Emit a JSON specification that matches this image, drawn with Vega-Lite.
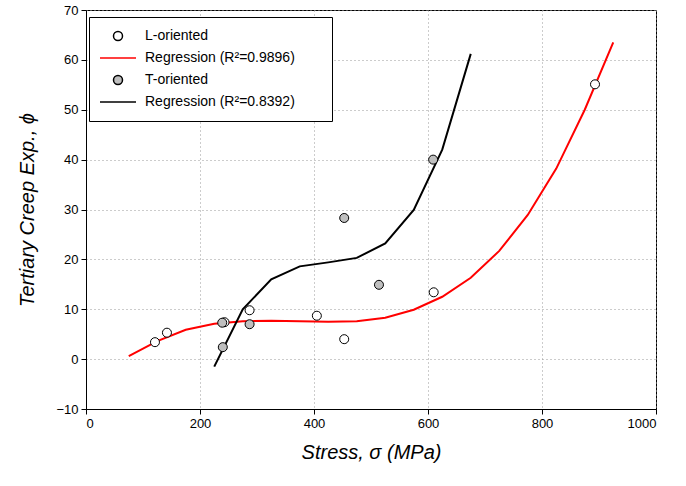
{
  "$schema": "https://vega.github.io/schema/vega-lite/v6.json",
  "width": 570,
  "height": 399,
  "autosize": "none",
  "padding": {"left": 86, "top": 10, "right": 30, "bottom": 77},
  "background": "white",
  "config": {
    "font": "Liberation Sans",
    "view": {"stroke": "black", "strokeWidth": 1},
    "axis": {
      "domainColor": "black", "tickColor": "black", "labelColor": "black", "titleColor": "black",
      "labelFont": "Liberation Sans", "labelFontSize": 13, "titleFont": "Liberation Sans",
      "titleFontSize": 20, "titleFontStyle": "italic", "titleFontWeight": "normal",
      "gridColor": "#999999", "gridDash": [1, 3], "gridWidth": 1, "tickSize": 5, "labelPadding": 3
    },
    "legend": {
      "orient": "none", "legendX": 3, "legendY": 7, "strokeColor": "black", "fillColor": "white",
      "padding": 12, "labelFont": "Liberation Sans", "labelFontSize": 14, "labelColor": "black",
      "labelLimit": 400, "symbolSize": 81, "symbolOffset": 10, "labelOffset": 20, "rowPadding": 7,
      "symbolStrokeWidth": 1.5,
      "titleOrient": "right", "titleColor": "white", "titleFontSize": 8, "titlePadding": 22
    }
  },
  "datasets": {
    "pts": [
      {"series": "L-oriented", "stress": 121, "phi": 3.4},
      {"series": "L-oriented", "stress": 142, "phi": 5.3},
      {"series": "L-oriented", "stress": 243, "phi": 7.4},
      {"series": "L-oriented", "stress": 287, "phi": 9.8},
      {"series": "L-oriented", "stress": 405, "phi": 8.7},
      {"series": "L-oriented", "stress": 453, "phi": 4.0},
      {"series": "L-oriented", "stress": 610, "phi": 13.4},
      {"series": "L-oriented", "stress": 893, "phi": 55.1},
      {"series": "T-oriented", "stress": 239, "phi": 7.3},
      {"series": "T-oriented", "stress": 240, "phi": 2.4},
      {"series": "T-oriented", "stress": 287, "phi": 7.0},
      {"series": "T-oriented", "stress": 453, "phi": 28.3},
      {"series": "T-oriented", "stress": 514, "phi": 14.9},
      {"series": "T-oriented", "stress": 609, "phi": 40.0}
    ],
    "fits": [
      {"series": "Regression (R²=0.9896)", "stress": 75, "phi": 0.6},
      {"series": "Regression (R²=0.9896)", "stress": 125, "phi": 3.6},
      {"series": "Regression (R²=0.9896)", "stress": 175, "phi": 5.9},
      {"series": "Regression (R²=0.9896)", "stress": 225, "phi": 7.1},
      {"series": "Regression (R²=0.9896)", "stress": 275, "phi": 7.6},
      {"series": "Regression (R²=0.9896)", "stress": 325, "phi": 7.7},
      {"series": "Regression (R²=0.9896)", "stress": 375, "phi": 7.6},
      {"series": "Regression (R²=0.9896)", "stress": 425, "phi": 7.5},
      {"series": "Regression (R²=0.9896)", "stress": 475, "phi": 7.6},
      {"series": "Regression (R²=0.9896)", "stress": 525, "phi": 8.3},
      {"series": "Regression (R²=0.9896)", "stress": 575, "phi": 9.9},
      {"series": "Regression (R²=0.9896)", "stress": 625, "phi": 12.5},
      {"series": "Regression (R²=0.9896)", "stress": 675, "phi": 16.3},
      {"series": "Regression (R²=0.9896)", "stress": 725, "phi": 21.7},
      {"series": "Regression (R²=0.9896)", "stress": 775, "phi": 28.9},
      {"series": "Regression (R²=0.9896)", "stress": 825, "phi": 38.2},
      {"series": "Regression (R²=0.9896)", "stress": 875, "phi": 50.0},
      {"series": "Regression (R²=0.9896)", "stress": 925, "phi": 63.5},
      {"series": "Regression (R²=0.8392)", "stress": 225, "phi": -1.5},
      {"series": "Regression (R²=0.8392)", "stress": 275, "phi": 10.0},
      {"series": "Regression (R²=0.8392)", "stress": 325, "phi": 16.0},
      {"series": "Regression (R²=0.8392)", "stress": 375, "phi": 18.6},
      {"series": "Regression (R²=0.8392)", "stress": 425, "phi": 19.4},
      {"series": "Regression (R²=0.8392)", "stress": 475, "phi": 20.3},
      {"series": "Regression (R²=0.8392)", "stress": 525, "phi": 23.2},
      {"series": "Regression (R²=0.8392)", "stress": 575, "phi": 29.9},
      {"series": "Regression (R²=0.8392)", "stress": 625, "phi": 42.0},
      {"series": "Regression (R²=0.8392)", "stress": 675, "phi": 61.2}
    ]
  },
  "encoding": {
    "x": {
      "field": "stress", "type": "quantitative",
      "scale": {"domain": [0, 1000], "nice": false},
      "axis": {"values": [0, 200, 400, 600, 800, 1000], "format": "d", "title": "Stress, σ (MPa)", "titlePadding": 12}
    },
    "y": {
      "field": "phi", "type": "quantitative",
      "scale": {"domain": [-10, 70], "nice": false},
      "axis": {"values": [-10, 0, 10, 20, 30, 40, 50, 60, 70], "format": "d", "title": "Tertiary Creep Exp., ϕ", "titlePadding": 18}
    }
  },
  "layer": [
    {
      "data": {"name": "fits"},
      "mark": {"type": "line", "strokeWidth": 2},
      "encoding": {
        "color": {
          "field": "series", "type": "nominal",
          "scale": {"domain": ["L-oriented", "Regression (R²=0.9896)", "T-oriented", "Regression (R²=0.8392)"], "range": ["black", "red", "black", "black"]},
          "legend": {"title": "."}
        }
      }
    },
    {
      "data": {"name": "pts"},
      "mark": {"type": "point", "size": 81, "opacity": 1, "strokeWidth": 1},
      "encoding": {
        "color": {"field": "series", "type": "nominal", "legend": {"title": "."}},
        "shape": {
          "field": "series", "type": "nominal",
          "scale": {"domain": ["L-oriented", "Regression (R²=0.9896)", "T-oriented", "Regression (R²=0.8392)"], "range": ["circle", "M-4,0H4", "circle", "M-4,0H4"]},
          "legend": {"title": "."}
        },
        "fill": {
          "field": "series", "type": "nominal",
          "scale": {"domain": ["L-oriented", "Regression (R²=0.9896)", "T-oriented", "Regression (R²=0.8392)"], "range": ["white", "transparent", "#bfbfbf", "transparent"]},
          "legend": {"title": "."}
        }
      }
    }
  ]
}
